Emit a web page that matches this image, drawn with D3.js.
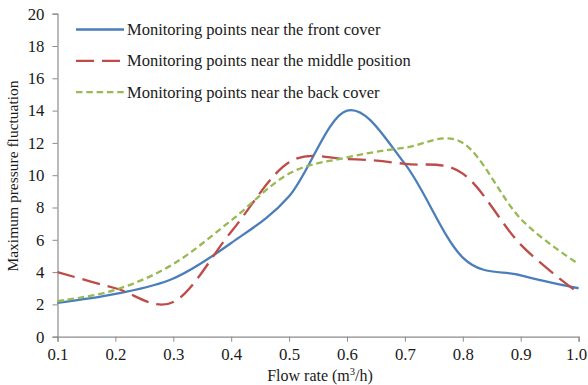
<!DOCTYPE html>
<html>
<head>
<meta charset="utf-8">
<script src="https://cdn.jsdelivr.net/npm/d3@7"></script>
<style>
  html, body { margin: 0; padding: 0; background: #fff; }
  svg { display: block; }
  text { font-family: "Liberation Serif", "Times New Roman", serif; fill: #1a1a1a; }
</style>
</head>
<body>
<svg id="chart" width="588" height="385"></svg>
<script>
// Flow rate (m3/h) at each monitoring run
const flowRates = [0.1, 0.2, 0.3, 0.4, 0.5, 0.6, 0.7, 0.8, 0.9, 1.0];

// Maximum pressure fluctuation per monitoring location
const frontCover  = [2.1, 2.65, 3.6, 5.8, 8.7, 14.0, 10.7, 4.9, 3.8, 3.0];
const middlePos   = [4.0, 3.0, 2.15, 6.5, 10.8, 11.0, 10.7, 10.1, 5.7, 2.7];
const backCover   = [2.2, 2.9, 4.5, 7.2, 10.1, 11.1, 11.7, 12.0, 7.3, 4.5];

const seriesNames = [
  "Monitoring points near the front cover",
  "Monitoring points near the middle position",
  "Monitoring points near the back cover"
];

const xTicks = [0.1, 0.2, 0.3, 0.4, 0.5, 0.6, 0.7, 0.8, 0.9, 1.0];
const yTicks = [0, 2, 4, 6, 8, 10, 12, 14, 16, 18, 20];

const series = [
  { name: seriesNames[0], values: frontCover, color: "#4a7ebb", dash: null },
  { name: seriesNames[1], values: middlePos,  color: "#be4b48", dash: "18,8" },
  { name: seriesNames[2], values: backCover,  color: "#98b954", dash: "6.5,3.8" }
];

const svg = d3.select("#chart");
const margin = { left: 57.5, right: 9.4, top: 13.7, bottom: 48.3 };
const W = 588, H = 385;

const x = d3.scaleLinear().domain([0.1, 1.0]).range([margin.left, W - margin.right]);
const y = d3.scaleLinear().domain([0, 20]).range([H - margin.bottom, margin.top]);

const axisColor = "#8c8c8c";
const tickFont = 16.8;

// x axis
const gx = svg.append("g")
  .attr("transform", `translate(0,${H - margin.bottom})`)
  .call(d3.axisBottom(x).tickValues(xTicks).tickFormat(d3.format(".1f")).tickSize(5).tickPadding(6));
gx.select(".domain").attr("stroke", axisColor).attr("stroke-width", 1.2);
gx.selectAll(".tick line").attr("stroke", axisColor).attr("stroke-width", 1);
gx.selectAll(".tick text").attr("font-size", tickFont).attr("font-family", "Liberation Serif").attr("fill", "#1a1a1a");
// keep the last label inside the right edge
gx.selectAll(".tick text").filter(d => d === 1.0).attr("dx", -2.5);

// y axis
const gy = svg.append("g")
  .attr("transform", `translate(${margin.left},0)`)
  .call(d3.axisLeft(y).tickValues(yTicks).tickSize(5).tickPadding(8));
gy.select(".domain").attr("stroke", axisColor).attr("stroke-width", 1.2);
gy.selectAll(".tick line").attr("stroke", axisColor).attr("stroke-width", 1);
gy.selectAll(".tick text").attr("font-size", tickFont).attr("font-family", "Liberation Serif").attr("fill", "#1a1a1a");

// Smoothed series lines
const line = d3.line()
  .x((d, i) => x(flowRates[i]))
  .y(d => y(d))
  .curve(d3.curveCatmullRom.alpha(0));

svg.append("g").selectAll("path")
  .data(series)
  .join("path")
  .attr("d", d => line(d.values))
  .attr("fill", "none")
  .attr("stroke", d => d.color)
  .attr("stroke-width", 2.3)
  .attr("stroke-dasharray", d => d.dash);

// Legend
const legend = svg.append("g");
series.forEach((s, i) => {
  const ly = 29.5 + i * 31.3;
  legend.append("line")
    .attr("x1", 76).attr("x2", 124)
    .attr("y1", ly).attr("y2", ly)
    .attr("stroke", s.color)
    .attr("stroke-width", 2.3)
    .attr("stroke-dasharray", s.dash);
  legend.append("text")
    .attr("x", 127).attr("y", ly)
    .attr("dy", "0.33em")
    .attr("font-size", 16.5)
    .text(s.name);
});

// Axis titles
svg.append("text")
  .attr("x", 320).attr("y", 381)
  .attr("text-anchor", "middle")
  .attr("font-size", 16)
  .html('Flow rate (m<tspan dy="-6" font-size="10.5">3</tspan><tspan dy="6">/h)</tspan>');

svg.append("text")
  .attr("transform", "translate(18,176) rotate(-90)")
  .attr("text-anchor", "middle")
  .attr("font-size", 15.5)
  .text("Maximum pressure fluctuation");
</script>
</body>
</html>
